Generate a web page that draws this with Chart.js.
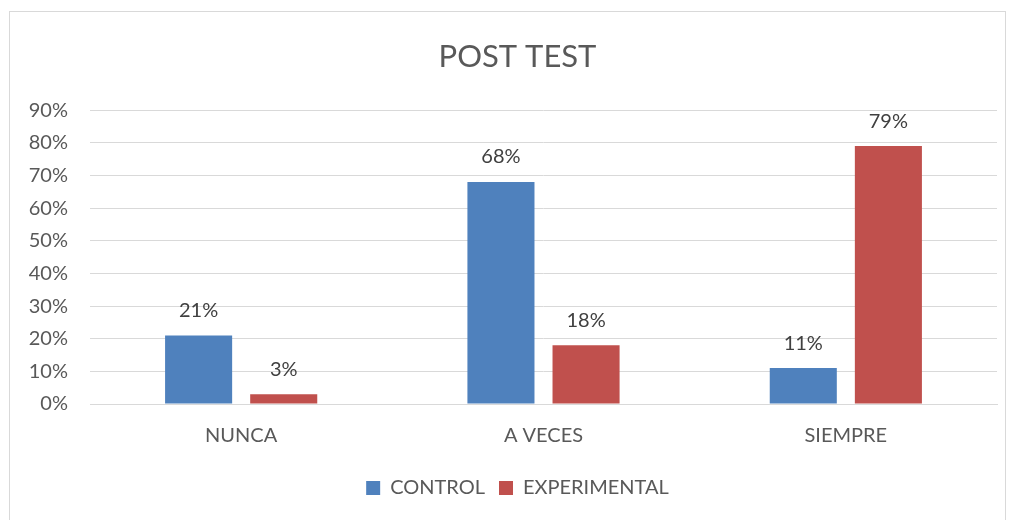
<!DOCTYPE html>
<html>
<head>
<meta charset="utf-8">
<script src="https://cdn.jsdelivr.net/npm/chart.js@4/dist/chart.umd.min.js"></script>
<style>
  html, body { margin: 0; padding: 0; background: #fff; }
  #wrap { position: relative; width: 1013px; height: 520px; overflow: hidden; }
  #frame { position: absolute; left: 9px; top: 11px; width: 997px; height: 540px; border: 1px solid #d9d9d9; box-sizing: border-box; }
  #chart { position: absolute; left: 0; top: 0; }
</style>
</head>
<body>
<div id="wrap">
  <div id="frame"></div>
  <canvas id="chart" width="1013" height="520"></canvas>
</div>
<script>
const categories = ['NUNCA', 'A VECES', 'SIEMPRE'];
const control = [21, 68, 11];
const experimental = [3, 18, 79];
const seriesNames = ['CONTROL', 'EXPERIMENTAL'];
const yMax = 90;
const yStep = 10;

const FONT = 'Lato, "Open Sans", sans-serif';
const TEXT = '#595959';

// draws "21%" etc above each bar
const barLabels = {
  id: 'barLabels',
  afterDatasetsDraw(chart) {
    const ctx = chart.ctx;
    ctx.save();
    ctx.font = '20px ' + FONT;
    ctx.fillStyle = '#404040';
    ctx.textAlign = 'center';
    ctx.textBaseline = 'bottom';
    chart.data.datasets.forEach((ds, i) => {
      chart.getDatasetMeta(i).data.forEach((bar, j) => {
        ctx.fillText(ds.data[j] + '%', bar.x, bar.y - 15);
      });
    });
    ctx.restore();
  }
};

// title and legend sit a bit right of the canvas centre in the original
const shiftHeader = {
  id: 'shiftHeader',
  afterLayout(chart) {
    if (chart.titleBlock) chart.titleBlock.left += 38;
    if (chart.legend) chart.legend.left += 38;
  }
};

new Chart(document.getElementById('chart'), {
  type: 'bar',
  data: {
    labels: categories,
    datasets: [
      { label: seriesNames[0], data: control, backgroundColor: '#4f81bd' },
      { label: seriesNames[1], data: experimental, backgroundColor: '#c0504d' }
    ]
  },
  options: {
    responsive: false,
    animation: false,
    layout: { padding: { left: 0, right: 16, top: 0, bottom: 12 } },
    categoryPercentage: 0.563,
    barPercentage: 0.788,
    scales: {
      x: {
        grid: { display: false, drawTicks: false },
        border: { color: '#d9d9d9' },
        ticks: { color: TEXT, font: { family: FONT, size: 20 }, padding: 20 },
        afterFit(s) { s.height = 60; }
      },
      y: {
        min: 0, max: yMax,
        grid: { color: '#d9d9d9', drawTicks: false },
        border: { display: false },
        ticks: { stepSize: yStep, color: TEXT, font: { family: FONT, size: 20 }, padding: 22, callback: v => v + '%' },
        afterFit(s) { s.width = 90; }
      }
    },
    plugins: {
      title: {
        display: true, text: 'POST TEST', color: TEXT,
        font: { family: FONT, size: 31, weight: 'normal' },
        padding: { top: 38, bottom: 35 }
      },
      legend: {
        position: 'bottom',
        labels: { color: TEXT, font: { family: FONT, size: 20 }, boxWidth: 14, boxHeight: 14, padding: 14 }
      },
      tooltip: { enabled: false }
    }
  },
  plugins: [barLabels, shiftHeader]
});
</script>
</body>
</html>
